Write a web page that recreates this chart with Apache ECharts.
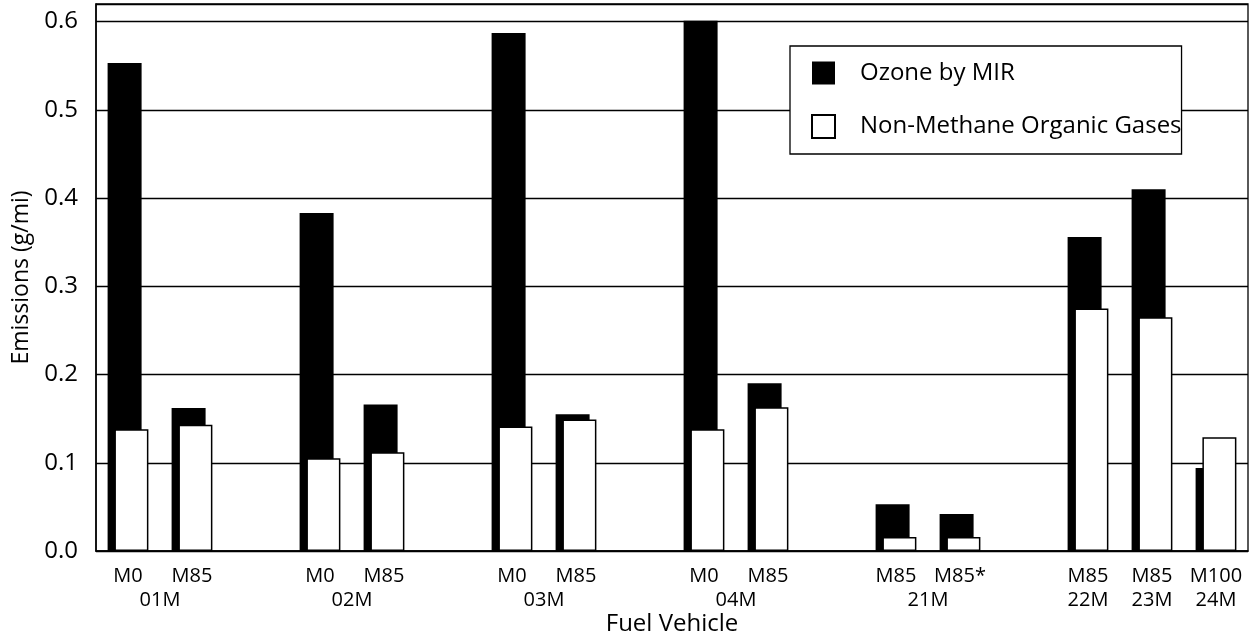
<!DOCTYPE html>
<html>
<head>
<meta charset="utf-8">
<script src="https://cdn.jsdelivr.net/npm/echarts@6/dist/echarts.min.js"></script>
<style>
  html, body { margin: 0; padding: 0; background: #fff; }
  #chart { width: 1258px; height: 641px; }
</style>
</head>
<body>
<div id="chart"></div>
<script>
// one slot per bar pair, empty slots make the gaps between vehicles
const fuels = ['M0', 'M85', '', 'M0', 'M85', '', 'M0', 'M85', '', 'M0', 'M85', '', 'M85', 'M85*', '', 'M85', 'M85', 'M100'];
const vehicles = ['01M', '01M', '', '02M', '02M', '', '03M', '03M', '', '04M', '04M', '', '21M', '21M', '', '22M', '23M', '24M'];
const ozoneMIR = [0.553, 0.162, null, 0.383, 0.166, null, 0.587, 0.155, null, 0.601, 0.19, null, 0.053, 0.042, null, 0.356, 0.41, 0.094];
const nmog = [0.138, 0.143, null, 0.105, 0.112, null, 0.141, 0.149, null, 0.138, 0.163, null, 0.016, 0.016, null, 0.275, 0.265, 0.129];
const yTicks = [0, 0.1, 0.2, 0.3, 0.4, 0.5, 0.6];

const FONT = 'Open Sans';

// vehicle label goes under the middle of its own slots
const vehicleCenters = {};
vehicles.forEach((v, i) => {
  if (!v) return;
  if (!vehicleCenters[v]) vehicleCenters[v] = [];
  vehicleCenters[v].push(i);
});
const vehicleAt = (val) => {
  for (const k in vehicleCenters) {
    const idx = vehicleCenters[k];
    const c = (idx[0] + idx[idx.length - 1]) / 2;
    if (Math.abs(c - val) < 0.01) return k;
  }
  return '';
};

const chart = echarts.init(document.getElementById('chart'));
chart.setOption({
  animation: false,
  textStyle: { fontFamily: FONT, color: '#000' },
  grid: {
    left: 96, right: 10, top: 4, bottom: 88,
    show: true, borderColor: '#000', borderWidth: 1.3
  },
  legend: {
    orient: 'vertical',
    left: 790, top: 46,
    padding: [15, 0, 15, 21],
    itemWidth: 23, itemHeight: 23, itemGap: 29,
    backgroundColor: '#fff',
    borderColor: '#000', borderWidth: 1.3,
    icon: 'rect',
    textStyle: { fontFamily: FONT, fontSize: 24, color: '#000', width: 355, padding: [0, 0, 0, 20] },
    data: ['Ozone by MIR', 'Non-Methane Organic Gases']
  },
  xAxis: [
    {
      type: 'category',
      data: fuels,
      name: 'Fuel Vehicle',
      nameLocation: 'middle',
      nameGap: 61,
      nameTextStyle: { fontFamily: FONT, fontSize: 24, color: '#000' },
      axisLine: { lineStyle: { color: '#000', width: 1.5 } },
      axisTick: { show: false },
      axisLabel: { interval: 0, margin: 15, fontFamily: FONT, fontSize: 20, color: '#000' }
    },
    {
      type: 'value',
      position: 'bottom',
      min: -0.5,
      max: fuels.length - 0.5,
      interval: 0.5,
      axisLine: { show: false },
      axisTick: { show: false },
      splitLine: { show: false },
      axisLabel: {
        margin: 39, fontFamily: FONT, fontSize: 20, color: '#000',
        showMinLabel: true, showMaxLabel: true,
        formatter: (v) => vehicleAt(v)
      }
    }
  ],
  yAxis: {
    type: 'value',
    min: 0, max: 0.62, interval: 0.1,
    name: 'Emissions (g/mi)',
    nameLocation: 'middle',
    nameGap: 60,
    nameTextStyle: { fontFamily: FONT, fontSize: 23, color: '#000', padding: [0, 0, 0, 0] },
    axisLine: { show: true, onZero: false, lineStyle: { color: '#000', width: 1.5 } },
    axisTick: { show: false },
    splitLine: { lineStyle: { color: '#000', width: 1.3 } },
    axisLabel: {
      margin: 18, fontFamily: FONT, fontSize: 24, color: '#000',
      showMaxLabel: false,
      formatter: (v) => yTicks.some(t => Math.abs(t - v) < 1e-6) ? v.toFixed(1) : ''
    }
  },
  series: [
    {
      name: 'Ozone by MIR',
      type: 'bar',
      xAxisIndex: 0,
      barWidth: 34,
      itemStyle: { color: '#000' },
      data: ozoneMIR
    },
    {
      name: 'Non-Methane Organic Gases',
      type: 'bar',
      xAxisIndex: 0,
      barWidth: 34,
      barGap: '-80%',
      itemStyle: { color: '#fff', borderColor: '#000', borderWidth: 1.5 },
      data: nmog
    }
  ]
});
</script>
</body>
</html>
